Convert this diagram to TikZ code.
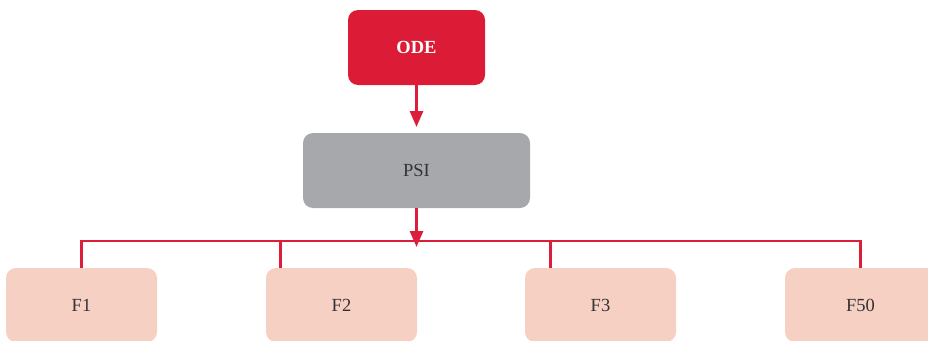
\documentclass[tikz,border=0pt]{standalone}
\usepackage{fontspec}
\setmainfont{Liberation Serif}
\usetikzlibrary{arrows.meta,calc}
\definecolor{odered}{HTML}{DC1C36}
\definecolor{linered}{HTML}{DD1E3A}
\definecolor{psigray}{HTML}{A7A8AB}
\definecolor{fpink}{HTML}{F7D0C4}
\definecolor{txtdark}{HTML}{333333}
\begin{document}
\begin{tikzpicture}[x=1pt,y=-1pt,
  box/.style={rounded corners=10pt,inner sep=0pt,font=\fontsize{18.5}{22}\selectfont,text=txtdark},
  conn/.style={draw=linered,line width=2.8pt},
  arr/.style={conn,-{Triangle[length=16pt,width=13pt]}}]
\useasboundingbox (0,0) rectangle (928,340);
\node[box,fill=odered,text=white,font=\fontsize{18.5}{22}\selectfont\bfseries,minimum width=137pt,minimum height=75pt] (ode) at (416.5,47.5) {ODE};
\node[box,fill=psigray,minimum width=227pt,minimum height=75pt] (psi) at (416.5,170.5) {PSI};
\node[box,fill=fpink,minimum width=151pt,minimum height=74pt] (f1) at (81.5,305) {F1};
\node[box,fill=fpink,minimum width=151pt,minimum height=74pt] (f2) at (341.5,305) {F2};
\node[box,fill=fpink,minimum width=151pt,minimum height=74pt] (f3) at (600.5,305) {F3};
\node[box,fill=fpink,minimum width=151pt,minimum height=74pt] (f50) at (860.5,305) {F50};
\coordinate (odetip) at (416.5,127);
\coordinate (bus) at (416.5,241);
\coordinate (bustip) at (416.5,247);
\draw[arr] (ode.south) -- (odetip);
\draw[conn] (f1.north) -- (f1.north |- bus) -- (f50.north |- bus) -- (f50.north);
\draw[conn] ($(f2.north west)+(15,0)$) coordinate (t2) -- (t2 |- bus);
\draw[conn] ($(f3.north west)+(26,0)$) coordinate (t3) -- (t3 |- bus);
\draw[arr] (psi.south) -- (bustip);
\end{tikzpicture}
\end{document}
